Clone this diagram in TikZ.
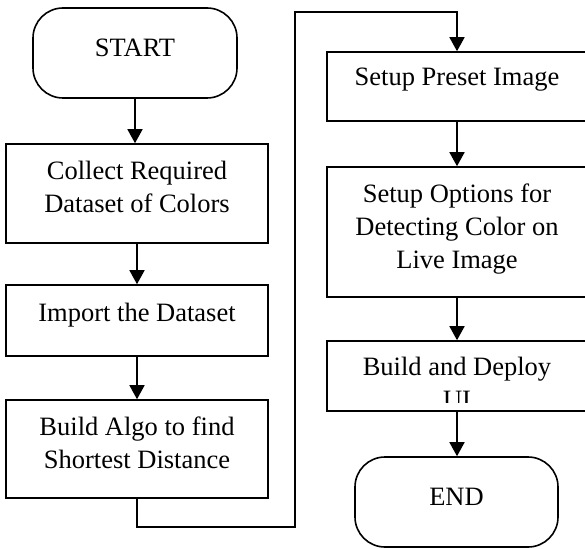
\documentclass[tikz,border=0pt]{standalone}
\usepackage{fontspec}
\setmainfont{Liberation Serif}
\usetikzlibrary{arrows.meta}
\newcommand\flowlines[1]{\begin{tabular}[t]{@{}c@{}}#1\end{tabular}}
\begin{document}
\begin{tikzpicture}[x=1pt,y=-1pt,
  line width=1.6pt,
  boxnode/.style={draw, rectangle, minimum width=262pt, inner sep=0pt},
  rboxnode/.style={draw, rectangle, minimum width=260pt, inner sep=0pt},
  termnode/.style={draw, rectangle, rounded corners=30pt, minimum width=204pt, minimum height=90pt, inner sep=0pt},
  txt/.style={anchor=base, inner sep=0pt, font=\fontsize{26.5}{33}\selectfont},
  flow/.style={-{Triangle[width=15pt,length=14pt]}}]
\clip (0,0) rectangle (585,548);
% terminals
\node[termnode] (start) at (135,53) {};
\node[txt] (starttxt) at (135,57) {START};
\node[termnode, minimum width=203pt] (end) at (456.5,502) {};
\node[txt] (endtxt) at (456.5,505) {END};
% left column
\node[boxnode, minimum height=99pt] (b1) at (137,193.5) {};
\node[txt] (t1) at (137,179) {\flowlines{Collect Required\\Dataset of Colors}};
\node[boxnode, minimum height=71pt] (b2) at (137,320.5) {};
\node[txt] (t2) at (137,321) {Import the Dataset};
\node[boxnode, minimum height=98pt] (b3) at (137,449) {};
\node[txt] (t3) at (137,435) {\flowlines{Build Algo to find\\Shortest Distance}};
% right column
\node[rboxnode, minimum height=69pt] (b4) at (457,86.5) {};
\node[txt] (t4) at (457,86) {Setup Preset Image};
\node[rboxnode, minimum height=130pt] (b5) at (457,232) {};
\node[txt] (t5) at (457,202) {\flowlines{Setup Options for\\Detecting Color on\\Live Image}};
\node[rboxnode, minimum height=70pt] (b6) at (457,376) {};
\begin{scope}
  \clip (b6.north west) rectangle ([yshift=9pt]b6.south east);
  \node[txt] (t6) at (457,375) {\flowlines{Build and Deploy\\UI}};
\end{scope}
% connectors
\coordinate (c1) at (295,527);
\coordinate (c2) at (295,12);
\draw[flow] (start.south) -- (start.south |- b1.north);
\draw[flow] (b1) -- (b2);
\draw[flow] (b2) -- (b3);
\draw[flow] (b3.south) |- (c1) -- (c2) -| (b4.north);
\draw[flow] (b4) -- (b5);
\draw[flow] (b5) -- (b6);
\draw[flow] (b6.south) -- (b6.south |- end.north);
\end{tikzpicture}
\end{document}
